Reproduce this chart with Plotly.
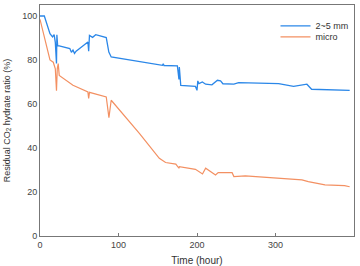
import plotly.graph_objects as go

blue_x = [0, 5.5, 12.7, 16, 18, 19.5, 21, 21.5, 22.5, 24.5, 38, 40, 42, 44, 46, 61, 62, 63, 67, 69, 71, 84.4, 87.7, 90.7, 156, 157, 158, 175, 177, 177.5, 179.3, 198, 200, 201, 202.5, 206.8, 211, 219, 226, 230, 233, 247, 253, 304, 323, 340, 346, 394.5]
blue_y = [100, 100, 92, 90.5, 91.5, 88, 78.4, 91.5, 86.5, 86.4, 85.2, 83.5, 84.5, 83, 84, 88.2, 84, 91.2, 90.3, 90.8, 91.5, 90.2, 83.6, 81.4, 77.6, 78.3, 77.5, 77.3, 71.2, 76.8, 68.5, 68, 66.2, 70.5, 69.3, 70, 69, 68.7, 70.8, 70.5, 69.2, 69, 69.7, 69.3, 68, 69, 66.7, 66.2]

orange_x = [0, 12.7, 16.9, 19.5, 21, 22, 23.2, 24.5, 42, 61, 62, 63, 84.4, 87, 87.8, 90.7, 126.6, 152, 160, 173, 177, 177.5, 198, 207, 211, 223.6, 227, 244.7, 247, 261.6, 333.7, 341.8, 363, 388, 394.5]
orange_y = [98.5, 80, 79, 76, 66, 76, 78.4, 73, 68.5, 65.5, 62.5, 65.3, 63.2, 57, 53.8, 61.7, 46.6, 35.3, 33.4, 32.7, 30.8, 31.5, 30.3, 28.2, 30.8, 27.7, 28.8, 28.8, 27, 27.3, 25.5, 24.7, 23.2, 22.9, 22.4]

x_ticks = [0, 100, 200, 300, 400]
y_ticks = [0, 20, 40, 60, 80, 100]

fig = go.Figure()
fig.add_trace(go.Scatter(x=blue_x, y=blue_y, mode="lines", name="2~5 mm",
                         line=dict(color="#2b87e8", width=1.3), legend="legend"))
fig.add_trace(go.Scatter(x=orange_x, y=orange_y, mode="lines", name="micro",
                         line=dict(color="#f39062", width=1.2), legend="legend2"))

axis_common = dict(showgrid=False, zeroline=False, showline=True, mirror=True,
                   linecolor="#777777", linewidth=1, automargin=False,
                   tickfont=dict(family="Liberation Sans, Arial", size=9, color="#444444"))

leg_common = dict(xanchor="left", yanchor="middle", xref="paper", yref="paper",
                  bgcolor="rgba(0,0,0,0)", font=dict(size=9, color="#333333"),
                  itemwidth=30)

fig.update_layout(
    width=360, height=266,
    margin=dict(l=40, r=6, t=5, b=30),
    paper_bgcolor="white", plot_bgcolor="white",
    font=dict(family="Liberation Sans, Arial", size=9, color="#333333"),
    xaxis=dict(range=[0, 400], tickvals=x_ticks, ticks="inside", ticklen=3,
               tickcolor="#777777",
               title=dict(text="Time (hour)", font=dict(size=10), standoff=14),
               **axis_common),
    yaxis=dict(range=[0, 105], tickvals=y_ticks, ticks="",
               title=dict(text="Residual CO<sub>2</sub> hydrate ratio (%)", font=dict(size=9), standoff=10),
               **axis_common),
    legend=dict(x=0.75, y=0.91, **leg_common),
    legend2=dict(x=0.75, y=0.862, **leg_common),
    showlegend=True,
)

fig.write_html("out.html")
